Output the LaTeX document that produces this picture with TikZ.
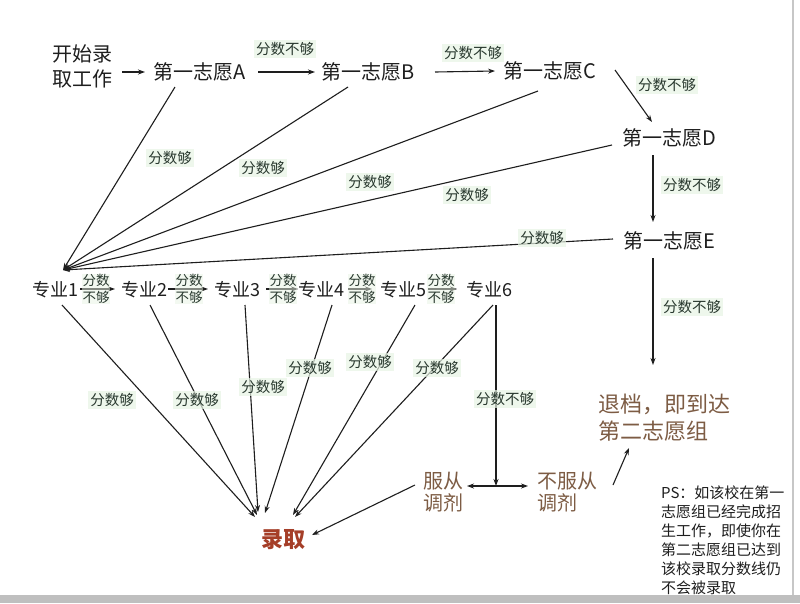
\documentclass[tikz,border=0pt]{standalone}
\usepackage{fontspec}
\setmainfont{Noto Sans CJK SC}
\usetikzlibrary{arrows.meta}
\definecolor{ink}{RGB}{30,30,30}
\definecolor{labink}{RGB}{40,56,46}
\definecolor{labbg}{RGB}{232,245,229}
\definecolor{brn}{RGB}{125,92,68}
\definecolor{redb}{RGB}{165,62,40}
\begin{document}
\begin{tikzpicture}[x=1pt,y=-1pt,
  main/.style={font=\fontsize{20}{25}\selectfont, text=ink, inner sep=0pt, align=center},
  zy/.style={font=\fontsize{18}{22}\selectfont, text=ink, inner sep=0pt},
  lab/.style={font=\fontsize{14.5}{16}\selectfont, text=labink, fill=labbg, fill opacity=0.7, text opacity=1, inner sep=2pt},
  slab/.style={font=\fontsize{13.5}{17}\selectfont, text=labink, fill=labbg, fill opacity=0.5, text opacity=1, inner sep=0.5pt, align=center},
  arr/.style={-{Stealth[length=7pt,width=5pt]}, line width=1.1pt, draw=ink},
  darr/.style={{Stealth[length=7pt,width=5pt]}-{Stealth[length=7pt,width=5pt]}, line width=1.1pt, draw=ink},
  ln/.style={line width=1.1pt, draw=ink}
]
\path[use as bounding box] (0,0) rectangle (800,603);
\fill[white] (0,0) rectangle (800,603);
% frame
\fill[black!25] (0,595) rectangle (800,603);
\draw[black!22, line width=2pt] (793,0) -- (793,595);

% top chain
\node[main] (S) at (82,66) {开始录\\取工作};
\node[main] (A) at (200,72) {第一志愿A};
\node[main] (B) at (368,72) {第一志愿B};
\node[main] (C) at (550,71) {第一志愿C};
\node[main] (D) at (669,138) {第一志愿D};
\node[main] (E) at (669,241) {第一志愿E};
\node[main, font=\fontsize{22}{27}\selectfont, text=brn, align=left] (R) at (664,418) {退档，即到达\\第二志愿组};

\draw[arr] ([shift={(40,6)}]S.center) -- ([shift={(-55,0)}]A.center);
\draw[arr] ([shift={(58,0)}]A.center) -- ([shift={(-53,0)}]B.center);
\draw[arr] ([shift={(67,0)}]B.center) -- ([shift={(-55,0)}]C.center);
\draw[arr] ([shift={(65,-1)}]C.center) -- ([shift={(-17,-16)}]D.center);
\draw[arr] ([shift={(-16,17)}]D.center) -- ([shift={(-16,-19)}]E.center);
\draw[arr] ([shift={(-16,17)}]E.center) -- ([shift={(-11,-53)}]R.center);

% hub fan
\coordinate (hub) at (63,270);
\draw[arr] ([shift={(-25,15)}]A.center) -- (hub);
\draw[arr] ([shift={(-20,15)}]B.center) -- (hub);
\draw[arr] ([shift={(-12,20)}]C.center) -- (hub);
\draw[arr] ([shift={(-57,7)}]D.center) -- (hub);
\draw[arr] ([shift={(-56,-2)}]E.center) -- (hub);

% majors row
\node[zy] (z1) at (55,290) {专业1};
\node[zy] (z2) at (144,290) {专业2};
\node[zy] (z3) at (237,290) {专业3};
\node[zy] (z4) at (321,290) {专业4};
\node[zy] (z5) at (403,290) {专业5};
\node[zy] (z6) at (489,290) {专业6};

\draw[arr] ([shift={(25,-1)}]z1.center) -- ([shift={(-29,-1)}]z2.center);
\draw[arr] ([shift={(24,-1)}]z2.center) -- ([shift={(-29,-1)}]z3.center);
\draw[arr] ([shift={(29,-1)}]z3.center) -- ([shift={(-23,-1)}]z4.center);
\draw[arr] ([shift={(27,-1)}]z4.center) -- ([shift={(-31,-1)}]z5.center);
\draw[arr] ([shift={(25,-1)}]z5.center) -- ([shift={(-32,-1)}]z6.center);

\node[slab] (s1) at (96,289) {分数\\不够};
\node[slab] (s2) at (189,289) {分数\\不够};
\node[slab] (s3) at (283,289) {分数\\不够};
\node[slab] (s4) at (362,289) {分数\\不够};
\node[slab] (s5) at (441,289) {分数\\不够};

% bottom
\node[main, font=\fontsize{22}{27}\selectfont\bfseries, text=redb] (L) at (283,540) {录取};
\node[main, font=\fontsize{20}{22}\selectfont, text=brn, align=left] (F) at (443,492) {服从\\调剂};
\node[main, font=\fontsize{20}{22}\selectfont, text=brn, align=left] (N) at (567,492) {不服从\\调剂};
\coordinate (J) at (496,486);

\draw[arr] ([shift={(7,15)}]z1.center) -- ([shift={(-28,-23)}]L.center);
\draw[arr] ([shift={(6,15)}]z2.center) -- ([shift={(-26,-25)}]L.center);
\draw[arr] ([shift={(8,15)}]z3.center) -- ([shift={(-25,-28)}]L.center);
\draw[arr] ([shift={(11,15)}]z4.center) -- ([shift={(-18,-27)}]L.center);
\draw[arr] ([shift={(12,15)}]z5.center) -- ([shift={(10,-25)}]L.center);
\draw[arr] ([shift={(4,15)}]z6.center) -- ([shift={(12,-23)}]L.center);
\draw[arr] ([shift={(-28,-7)}]F.center) -- ([shift={(29,-5)}]L.center);
\draw[arr] ([shift={(7,15)}]z6.center) -- (J);
\draw[darr] ([shift={(24,-6)}]F.center) -- ([shift={(-39,-6)}]N.center);
\draw[arr] ([shift={(46,-7)}]N.center) -- ([shift={(-35,30)}]R.center);

% labels
\node[lab] (lAB) at (285,49) {分数不够};
\node[lab] (lBC) at (473,53) {分数不够};
\node[lab] (lCD) at (667,85) {分数不够};
\node[lab] (lDE) at (692,185) {分数不够};
\node[lab] (lER) at (692,307) {分数不够};
\node[lab] (lA) at (170,158) {分数够};
\node[lab] (lB) at (263,168) {分数够};
\node[lab] (lC) at (370,182) {分数够};
\node[lab] (lD) at (467,195) {分数够};
\node[lab] (lE) at (542,238) {分数够};
\node[lab] (l1) at (112,400) {分数够};
\node[lab] (l2) at (197,400) {分数够};
\node[lab] (l3) at (263,387) {分数够};
\node[lab] (l4) at (310,368) {分数够};
\node[lab] (l5) at (370,362) {分数够};
\node[lab] (l6) at (437,368) {分数够};
\node[lab] (l7) at (505,399) {分数不够};

% PS note
\node[font=\fontsize{15}{19}\selectfont, text=ink, align=left, anchor=west, inner sep=0pt] (P) at (661,540)
 {PS：如该校在第一\\志愿组已经完成招\\生工作，即使你在\\第二志愿组已达到\\该校录取分数线仍\\不会被录取};
\end{tikzpicture}
\end{document}
